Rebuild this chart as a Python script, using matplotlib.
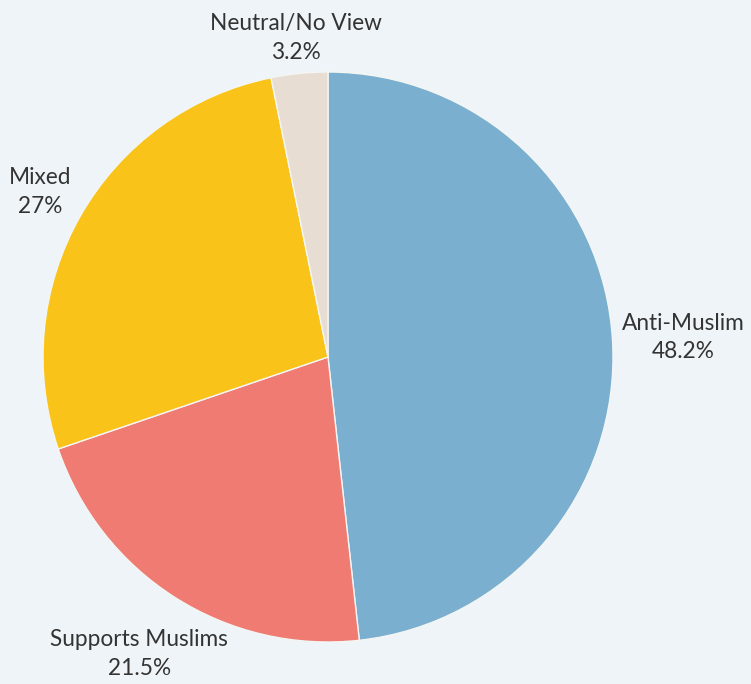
import numpy as np
import matplotlib.pyplot as plt

# share of coverage by stance
labels = ['Anti-Muslim', 'Supports Muslims', 'Mixed', 'Neutral/No View']
shares = [48.2, 21.5, 27, 3.2]
share_text = ['48.2%', '21.5%', '27%', '3.2%']

colors = ['#7aafcf', '#ef7b72', '#f9c319', '#e8ddd3']
label_dist = [1.247, 1.235, 1.165, 1.125]

bg = '#eef4f8'
fig = plt.figure(figsize=(7.51, 6.84), dpi=100, facecolor=bg)
ax = fig.add_axes([0, 0, 1, 1])
ax.set_facecolor(bg)

cx, cy, r = 328, 327, 285
wedges, _ = ax.pie(shares, colors=colors, startangle=90, counterclock=False,
                   center=(cx, cy), radius=r, normalize=True,
                   wedgeprops=dict(edgecolor='#f4f6f4', linewidth=1))

# pie() resets the limits, so pin them to pixel units afterwards
ax.set_xlim(0, 751)
ax.set_ylim(0, 684)
ax.set_aspect('equal')
ax.axis('off')

# two-line labels just outside each slice
for w, name, pct, d in zip(wedges, labels, share_text, label_dist):
    ang = np.deg2rad((w.theta1 + w.theta2) / 2)
    x = cx + d * r * np.cos(ang)
    y = cy + d * r * np.sin(ang)
    ax.text(x, y, name + '\n' + pct, ha='center', va='center',
            fontsize=16.3, color='#333333', family='Lato', linespacing=1.45)

fig.savefig('out.png', dpi=100, facecolor=bg)
